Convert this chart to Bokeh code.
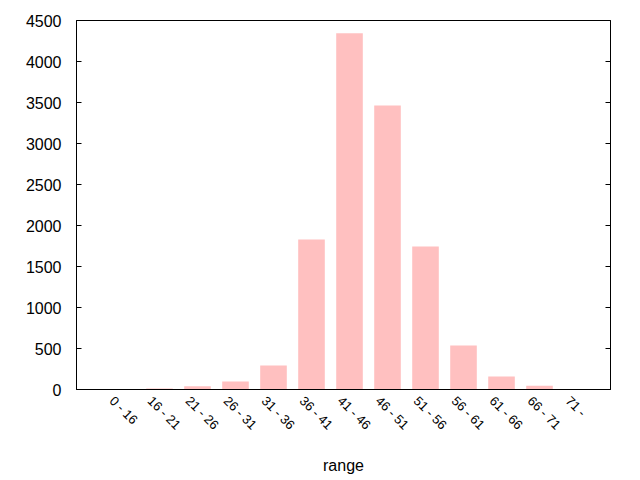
from bokeh.plotting import figure
from bokeh.models import FixedTicker, LinearAxis, Range1d, ColumnDataSource
from bokeh.embed import file_html
from bokeh.resources import INLINE
import math

categories = ["0 - 16", "16 - 21", "21 - 26", "26 - 31", "31 - 36", "36 - 41",
              "41 - 46", "46 - 51", "51 - 56", "56 - 61", "61 - 66", "66 - 71", "71 -"]
counts = [0, 12, 40, 97, 293, 1829, 4343, 3463, 1744, 536, 158, 45, 0]
y_ticks = [0, 500, 1000, 1500, 2000, 2500, 3000, 3500, 4000, 4500]

xs = list(range(len(categories)))
src = ColumnDataSource(dict(x=xs, top=counts))

p = figure(width=640, height=480, output_backend="svg", toolbar_location=None,
           x_range=Range1d(-1.184, 12.868), y_range=Range1d(0, 4500),
           min_border_left=76, min_border_right=30, min_border_top=20, min_border_bottom=91)
p.vbar(x="x", top="top", width=0.7, source=src, fill_color="#FFC0C0", line_color=None)

p.grid.visible = False
p.outline_line_color = "black"
p.outline_line_width = 1
p.background_fill_color = "white"
p.border_fill_color = "white"

font = "Liberation Sans"
label_shift = 0.25
tick_pos = [i - label_shift for i in xs]
xa = p.xaxis[0]
xa.ticker = FixedTicker(ticks=tick_pos)
xa.major_label_overrides = {t: c for t, c in zip(tick_pos, categories)}
xa.major_label_orientation = -math.pi / 4
xa.major_tick_line_color = None
xa.minor_tick_line_color = None
xa.axis_line_color = "black"
xa.major_label_text_font = font
xa.major_label_text_font_size = "13px"
xa.major_label_text_color = "black"
xa.major_label_standoff = 3
xa.axis_label = "range"
xa.axis_label_text_font = font
xa.axis_label_text_font_size = "16px"
xa.axis_label_text_font_style = "normal"
xa.axis_label_text_color = "black"
xa.axis_label_standoff = 16

ya = p.yaxis[0]
ya.ticker = FixedTicker(ticks=y_ticks)
ya.major_tick_in = 5
ya.major_tick_out = 0
ya.minor_tick_line_color = None
ya.axis_line_color = "black"
ya.major_label_text_font = font
ya.major_label_text_font_size = "16px"
ya.major_label_text_color = "black"
ya.major_label_standoff = 15

ra = LinearAxis(ticker=FixedTicker(ticks=y_ticks))
ra.major_tick_in = 5
ra.major_tick_out = 0
ra.minor_tick_line_color = None
ra.major_label_text_font_size = "0px"
ra.major_label_text_color = None
ra.axis_line_color = "black"
p.add_layout(ra, "right")

open("out.html", "w").write(file_html(p, INLINE))
